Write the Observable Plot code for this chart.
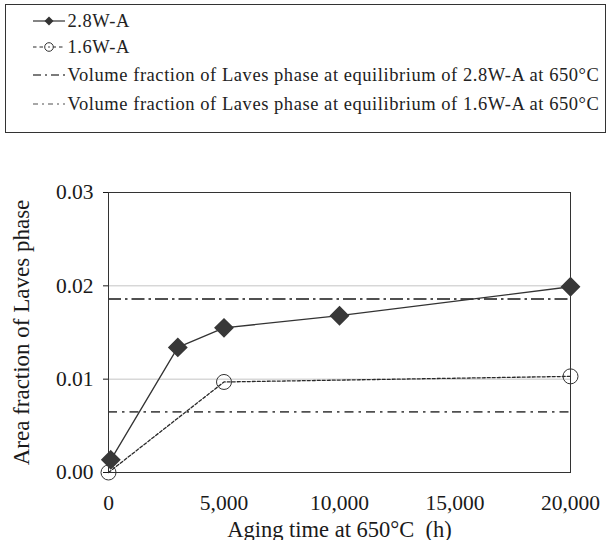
<!DOCTYPE html>
<html>
<head>
<meta charset="utf-8">
<script src="https://cdn.jsdelivr.net/npm/d3@7"></script>
<script src="https://cdn.jsdelivr.net/npm/@observablehq/plot@0.6"></script>
<style>
  body { margin:0; background:white; font-family:"Liberation Serif", serif; color:#222; }
  #wrap { position:relative; width:613px; height:540px; }
  #legend { position:absolute; left:5px; top:4px; width:599px; height:127px; border:1.5px solid #333; box-sizing:content-box; }
  .row { position:absolute; left:0; height:26px; display:flex; align-items:center; font-size:18.5px; letter-spacing:0.55px; white-space:nowrap; }
  .row svg { display:block; }
  #chart { position:absolute; left:0; top:140px; }
</style>
</head>
<body>
<div id="wrap">
  <div id="legend"></div>
  <div id="chart"></div>
</div>
<script>
// Data
const time28 = [100, 3000, 5000, 10000, 20000];
const frac28 = [0.00136, 0.0134, 0.0155, 0.0168, 0.0199];
const time16 = [0, 5000, 20000];
const frac16 = [0.0000, 0.0097, 0.0103];
const eq28 = 0.0186;
const eq16 = 0.0065;
const xTicks = [0, 5000, 10000, 15000, 20000];
const yTicks = [0, 0.01, 0.02, 0.03];
const gridTicks = [0.01, 0.02];
const seriesNames = ["2.8W-A", "1.6W-A",
  "Volume fraction of Laves phase at equilibrium of 2.8W-A at 650\u00B0C",
  "Volume fraction of Laves phase at equilibrium of 1.6W-A at 650\u00B0C"];

const d28 = time28.map((t, i) => ({t, v: frac28[i]}));
const d16 = time16.map((t, i) => ({t, v: frac16[i]}));

// Styles
const st = {
  s28: {stroke:"#333", width:1.3, dash:null, legendDash:null},
  s16: {stroke:"#2a2a2a", width:1.3, dash:"3,2", legendDash:"3.5,3"},
  e28: {stroke:"#505050", width:2, dash:"13,4,2.5,4", legendDash:"8,4,2,4"},
  e16: {stroke:"#505050", width:1.6, dash:"9,5,2.5,5", legendDash:"5,4,2,4"}
};

// Legend
const legend = document.getElementById("legend");
const rowsTop = [3, 29, 57, 86];
const swatch = (kind) => {
  const ns = "http://www.w3.org/2000/svg";
  const svg = document.createElementNS(ns, "svg");
  svg.setAttribute("width", 34); svg.setAttribute("height", 20);
  const line = document.createElementNS(ns, "line");
  line.setAttribute("x1", 0); line.setAttribute("x2", 32);
  line.setAttribute("y1", 10); line.setAttribute("y2", 10);
  const s = st[kind];
  line.setAttribute("stroke", s.stroke);
  line.setAttribute("stroke-width", kind === "e28" ? 1.5 : 1.2);
  if (s.legendDash) line.setAttribute("stroke-dasharray", s.legendDash);
  svg.appendChild(line);
  if (kind === "s28") {
    const p = document.createElementNS(ns, "path");
    p.setAttribute("d", "M16,5.5L20.5,10L16,14.5L11.5,10Z");
    p.setAttribute("fill", "#333");
    svg.appendChild(p);
  } else if (kind === "s16") {
    const c = document.createElementNS(ns, "circle");
    c.setAttribute("cx", 16); c.setAttribute("cy", 10); c.setAttribute("r", 4.3);
    c.setAttribute("fill", "white"); c.setAttribute("stroke", "#333");
    svg.appendChild(c);
    const d = document.createElementNS(ns, "circle");
    d.setAttribute("cx", 16); d.setAttribute("cy", 10); d.setAttribute("r", 0.8);
    d.setAttribute("fill", "#333");
    svg.appendChild(d);
  }
  return svg;
};
["s28","s16","e28","e16"].forEach((k, i) => {
  const row = document.createElement("div");
  row.className = "row";
  row.style.top = rowsTop[i] + "px";
  row.style.left = "26.5px";
  row.appendChild(swatch(k));
  const span = document.createElement("span");
  span.textContent = seriesNames[i];
  span.style.marginLeft = "1px";
  row.appendChild(span);
  legend.appendChild(row);
});

// Chart
const chart = Plot.plot({
  width: 613,
  height: 400,
  marginTop: 52,
  marginLeft: 108,
  marginRight: 43,
  marginBottom: 68,
  style: {fontFamily: "Liberation Serif, serif", fontSize: "21px", color: "#1a1a1a", background: "white", overflow: "visible"},
  x: {domain: [0, 20000]},
  y: {domain: [0, 0.03]},
  marks: [
    Plot.ruleY(gridTicks, {stroke: "#c4c4c4", strokeWidth: 1}),
    Plot.ruleY([eq28], {stroke: st.e28.stroke, strokeWidth: st.e28.width, strokeDasharray: st.e28.dash}),
    Plot.ruleY([eq16], {stroke: st.e16.stroke, strokeWidth: st.e16.width, strokeDasharray: st.e16.dash}),
    Plot.frame({stroke: "#333", strokeWidth: 1}),
    Plot.line(d16, {x: "t", y: "v", stroke: st.s16.stroke, strokeWidth: st.s16.width, strokeDasharray: st.s16.dash}),
    Plot.line(d28, {x: "t", y: "v", stroke: st.s28.stroke, strokeWidth: st.s28.width}),
    Plot.dot(d16, {x: "t", y: "v", r: 7.5, stroke: "#333", strokeWidth: 1, fill: "none"}),
    Plot.dot(d28, {x: "t", y: "v", r: 8, symbol: "diamond2", fill: "#383838", stroke: "#383838"}),
    Plot.axisX({ticks: xTicks, tickSize: 0, tickPadding: 22, tickFormat: d3.format(",d"), fontSize: 21.5, label: null}),
    Plot.axisX({ticks: [], tickSize: 0, label: "Aging time at 650\u00B0C\u00A0\u00A0(h)", labelAnchor: "center", labelOffset: 64, labelArrow: "none", fontSize: 22.5, style: {letterSpacing: "0.5px"}}),
    Plot.axisY({ticks: yTicks, tickSize: 5, tickPadding: 10, tickFormat: d3.format(".2f"), fontSize: 21.5, label: null}),
    Plot.axisY({ticks: [], tickSize: 0, label: "Area fraction of Laves phase", labelAnchor: "center", labelOffset: 96, labelArrow: "none", fontSize: 23, style: {letterSpacing: "1px"}})
  ]
});
document.getElementById("chart").appendChild(chart);
</script>
</body>
</html>
